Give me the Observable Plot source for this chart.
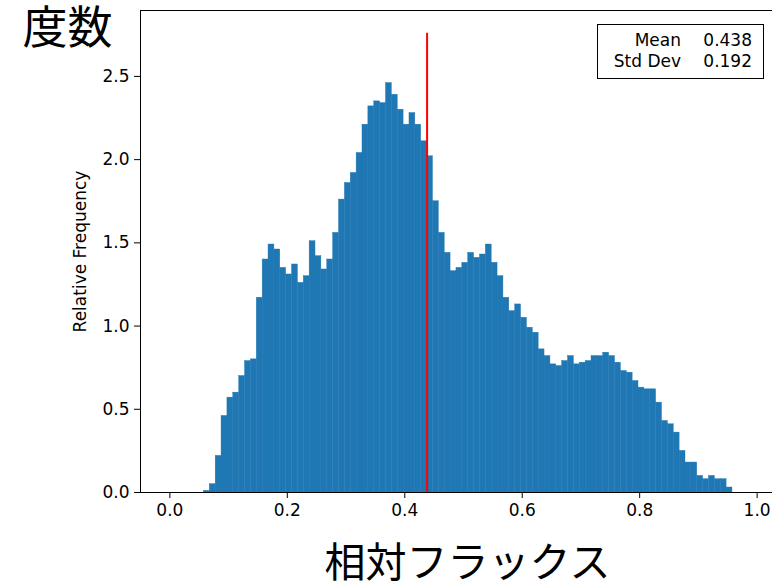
<!DOCTYPE html>
<html><head><meta charset="utf-8">
<script src="https://cdn.jsdelivr.net/npm/d3@7"></script>
<script src="https://cdn.jsdelivr.net/npm/@observablehq/plot@0.6"></script>
<style>
body{margin:0;width:772px;height:586px;overflow:hidden;background:#fff;position:relative;font-family:"DejaVu Sans",sans-serif;}
#chart{position:absolute;left:0;top:0;width:790px;}
#chart svg{max-width:none !important;}
#stats{position:absolute;left:597px;top:24px;width:167px;height:55px;border:1px solid #000;background:#fff;box-sizing:border-box;font-size:17px;font-family:"DejaVu Sans",sans-serif;color:#000;}
#stats .lab,#stats .val{position:absolute;white-space:nowrap;line-height:20px;}
</style></head><body>
<div id="chart"></div>
<div id="stats"></div>
<script>
const binStart = 0.058;
const binWidth = 0.01;
const relFreq = [
  0.01, 0.05, 0.22, 0.46, 0.57, 0.60, 0.70, 0.79, 0.80, 1.17,
  1.40, 1.49, 1.46, 1.35, 1.31, 1.37, 1.26, 1.30, 1.51, 1.42,
  1.34, 1.40, 1.56, 1.76, 1.86, 1.92, 2.04, 2.21, 2.32, 2.35,
  2.34, 2.46, 2.39, 2.30, 2.21, 2.28, 2.21, 2.11, 2.02, 1.75,
  1.56, 1.44, 1.33, 1.35, 1.38, 1.44, 1.41, 1.43, 1.49, 1.38,
  1.30, 1.17, 1.09, 1.13, 1.05, 0.99, 0.96, 0.86, 0.82, 0.77,
  0.76, 0.79, 0.82, 0.77, 0.78, 0.79, 0.82, 0.82, 0.84, 0.82,
  0.78, 0.73, 0.72, 0.67, 0.63, 0.62, 0.62, 0.54, 0.43, 0.41,
  0.36, 0.25, 0.18, 0.18, 0.10, 0.08, 0.10, 0.08, 0.08, 0.03
];
const meanValue = 0.438;
const stdValue = 0.192;
const meanLineTop = 2.76;
const xTicks = [0.0, 0.2, 0.4, 0.6, 0.8, 1.0];
const yTicks = [0.0, 0.5, 1.0, 1.5, 2.0, 2.5];
const xLabel = "相対フラックス";
const yLabel = "Relative Frequency";
const titleText = "度数";
const statLabels = ["Mean", "Std Dev"];
const statValues = [meanValue, stdValue];

const bins = relFreq.map((v, i) => ({x1: binStart + i * binWidth, x2: binStart + (i + 1) * binWidth, y: v}));

const plot = Plot.plot({
  width: 790, height: 586,
  marginLeft: 140, marginRight: 4, marginTop: 10, marginBottom: 94,
  x: {domain: [-0.05, 1.05]},
  y: {domain: [0, 2.896]},
  style: {fontFamily: "DejaVu Sans", fontSize: "17px", color: "#000", background: "#fff", overflow: "visible", maxWidth: "none"},
  marks: [
    Plot.rectY(bins, {x1: "x1", x2: "x2", y: "y", fill: "#1f77b4", stroke: "#1f77b4", strokeWidth: 0.4, inset: 0}),
    Plot.ruleX([meanValue], {y1: 0, y2: meanLineTop, stroke: "red", strokeWidth: 2}),
    Plot.frame({stroke: "#000", strokeWidth: 1}),
    Plot.axisX({ticks: xTicks, tickFormat: ".1f", tickSize: 6, tickPadding: 5, label: null, fontSize: 17}),
    Plot.axisY({ticks: yTicks, tickFormat: ".1f", tickSize: 6, tickPadding: 5, label: null, fontSize: 17}),
    Plot.text([yLabel], {text: d => d, frameAnchor: "left", rotate: -90, dx: -60, textAnchor: "middle", lineAnchor: "middle", fontSize: 17}),
    Plot.text([xLabel], {text: d => d, frameAnchor: "bottom", dy: 71, dx: 4, textAnchor: "middle", lineAnchor: "middle", fontSize: 41, fontFamily: "Noto Sans CJK JP"}),
    Plot.text([titleText], {text: d => d, frameAnchor: "top-left", dx: -118, dy: 19, textAnchor: "start", lineAnchor: "middle", fontSize: 45, fontFamily: "Noto Sans CJK JP"})
  ]
});
document.getElementById("chart").appendChild(plot);

const stats = document.getElementById("stats");
statLabels.forEach((lab, i) => {
  const a = document.createElement("span");
  a.className = "lab";
  a.textContent = lab;
  a.style.right = "82px";
  a.style.top = (5 + i * 21) + "px";
  stats.appendChild(a);
  const b = document.createElement("span");
  b.className = "val";
  b.textContent = statValues[i].toFixed(3);
  b.style.right = "11px";
  b.style.top = (5 + i * 21) + "px";
  stats.appendChild(b);
});
</script>
</body></html>
